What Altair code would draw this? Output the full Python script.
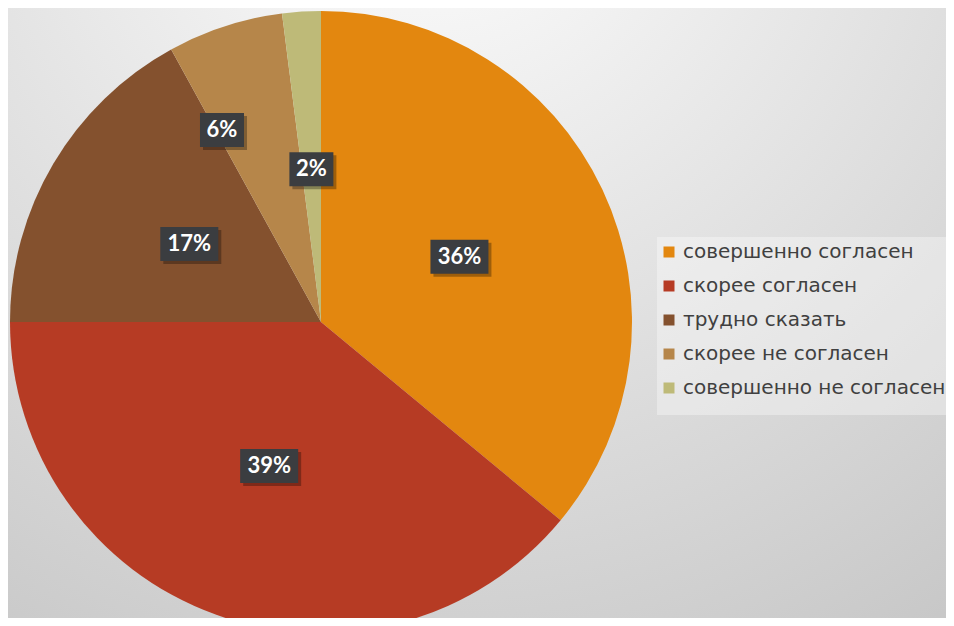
import altair as alt
import pandas as pd

categories = ["совершенно согласен", "скорее согласен", "трудно сказать",
              "скорее не согласен", "совершенно не согласен"]
values = [36, 39, 17, 6, 2]
labels = ["36%", "39%", "17%", "6%", "2%"]
colors = ["#E3870F", "#B63B24", "#84512E", "#B6864A", "#BEBA78"]

W, H = 938, 610
CX, CY, R = 313, 314, 311

df = pd.DataFrame({"cat": categories, "value": values, "label": labels,
                   "idx": list(range(len(categories)))})

one = alt.Chart(pd.DataFrame({"z": [0]}))

bg = one.mark_rect(
    fill=alt.RadialGradient(
        gradient="radial", x1=0.45, y1=0, r1=0, x2=0.45, y2=0, r2=1.2,
        stops=[alt.GradientStop(color="#ffffff", offset=0),
               alt.GradientStop(color="#bcbcbc", offset=1)])
).encode(x=alt.value(0), x2=alt.value(W), y=alt.value(0), y2=alt.value(H))

legend_bg = one.mark_rect(color="#ffffff", opacity=0.35).encode(
    x=alt.value(649), x2=alt.value(W), y=alt.value(229), y2=alt.value(407))

base = alt.Chart(df)

pie = base.mark_arc(radius=R, clip=True).encode(
    theta=alt.Theta("value:Q", stack=True),
    color=alt.Color("cat:N", title=None,
                    scale=alt.Scale(domain=categories, range=colors),
                    legend=alt.Legend(orient="none", legendX=651, legendY=234,
                                      symbolType="square", symbolSize=121,
                                      symbolStrokeWidth=0, labelFontSize=20,
                                      labelFont="DejaVu Sans", labelColor="#404040",
                                      labelLimit=400, rowPadding=14, padding=0,
                                      labelOffset=4)),
    order=alt.Order("idx:Q"),
    x=alt.value(CX), y=alt.value(CY),
)

lab = base.transform_window(
    cum="sum(value)", sort=[alt.SortField("idx")], frame=[None, 0]
).transform_joinaggregate(total="sum(value)").transform_calculate(
    mid="(datum.cum - datum.value / 2) / datum.total * 2 * PI",
    ang="datum.mid + (datum.idx == 3 ? -0.162 : 0)",
    r="datum.idx == 3 ? 216 : 153",
    px=f"{CX} + datum.r * sin(datum.ang)",
    py=f"{CY} - datum.r * cos(datum.ang)",
    hw="8 + 7 * length(datum.label)",
    bx1="datum.px - datum.hw",
    bx2="datum.px + datum.hw",
    by1="datum.py - 17",
    by2="datum.py + 17",
)

shadow = lab.mark_rect(color="#000000", opacity=0.3, xOffset=3, x2Offset=3,
                       yOffset=3, y2Offset=3).encode(
    x=alt.X("bx1:Q", scale=None, axis=None), x2="bx2:Q",
    y=alt.Y("by1:Q", scale=None, axis=None), y2="by2:Q")

box = lab.mark_rect(color="#3B3D40").encode(
    x=alt.X("bx1:Q", scale=None, axis=None), x2="bx2:Q",
    y=alt.Y("by1:Q", scale=None, axis=None), y2="by2:Q")

txt = lab.mark_text(font="Lato", fontWeight="bold", fontSize=22, color="#ffffff",
                    align="center", baseline="middle").encode(
    x=alt.X("px:Q", scale=None, axis=None),
    y=alt.Y("py:Q", scale=None, axis=None),
    text="label:N")

chart = alt.layer(bg, legend_bg, pie, shadow, box, txt).properties(
    width=W, height=H, padding=0,
    autosize=alt.AutoSizeParams(type="none"),
).configure_view(strokeWidth=0)

chart.save("out.html", embed_options={"renderer": "svg", "actions": False})
